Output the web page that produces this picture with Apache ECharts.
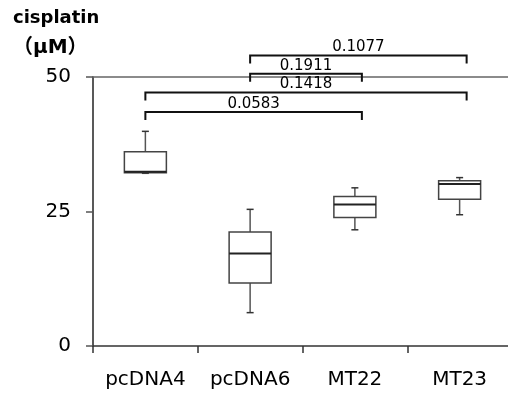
<!DOCTYPE html>
<html>
<head>
<meta charset="utf-8">
<script src="https://cdn.jsdelivr.net/npm/echarts@6/dist/echarts.min.js"></script>
<style>
  html, body { margin: 0; padding: 0; background: #fff; }
  #chart { width: 508px; height: 396px; }
</style>
</head>
<body>
<div id="chart"></div>
<script>
// groups on the x axis
var categories = ['pcDNA4', 'pcDNA6', 'MT22', 'MT23'];

// box plot statistics (cisplatin, μM)
var minVals    = [32.1,  6.2, 21.6, 24.4];
var q1Vals     = [32.2, 11.7, 23.9, 27.3];
var medianVals = [32.4, 17.2, 26.3, 30.1];
var q3Vals     = [36.1, 21.2, 27.8, 30.7];
var maxVals    = [39.9, 25.4, 29.4, 31.3];

// y axis ticks
var yTicks = [0, 25, 50];

// significance brackets (from group, to group, height, p value)
var bracketFrom  = [1, 1, 0, 0];
var bracketTo    = [3, 2, 3, 2];
var bracketLevel = [54.0, 50.6, 47.1, 43.5];
var pValues      = ['0.1077', '0.1911', '0.1418', '0.0583'];

var FONT = '"DejaVu Sans", "Noto Sans CJK SC", sans-serif';

var boxData = categories.map(function (c, i) {
  return [i, minVals[i], q1Vals[i], medianVals[i], q3Vals[i], maxVals[i]];
});
var bracketData = pValues.map(function (p, i) {
  return [bracketFrom[i], bracketTo[i], bracketLevel[i], p];
});

var chart = echarts.init(document.getElementById('chart'));

var option = {
  animation: false,
  title: {
    text: '{a|cisplatin}\n{b|（μM）}',
    left: 8,
    top: -2,
    textStyle: {
      fontFamily: FONT,
      fontWeight: 'bold',
      color: '#000',
      rich: {
        a: { fontFamily: FONT, fontWeight: 'bold', fontSize: 18, lineHeight: 30, color: '#000' },
        b: { fontFamily: FONT, fontWeight: 'bold', fontSize: 20, lineHeight: 30, color: '#000' }
      }
    }
  },
  grid: { left: 93, width: 419, top: 77, bottom: 50, outerBoundsMode: 'none' },
  xAxis: [{
    type: 'category',
    data: categories,
    axisLine: { lineStyle: { color: '#333', width: 1.5 } },
    axisTick: { show: true, interval: 0, length: 7, lineStyle: { color: '#333', width: 1.5 } },
    axisLabel: { interval: 0, fontFamily: FONT, fontSize: 20, color: '#000', margin: 24 }
  }, {
    // line across the top at 50
    type: 'category',
    data: categories,
    position: 'top',
    axisLine: { lineStyle: { color: '#666', width: 1.5 } },
    axisTick: { show: false },
    axisLabel: { show: false }
  }],
  yAxis: {
    type: 'value',
    min: yTicks[0],
    max: yTicks[yTicks.length - 1],
    interval: yTicks[1] - yTicks[0],
    axisLine: { show: true, lineStyle: { color: '#222', width: 1.5 } },
    axisTick: { show: true, length: 7, lineStyle: { color: '#555', width: 1.5 } },
    axisLabel: { fontFamily: FONT, fontSize: 20, color: '#000', margin: 22 },
    splitLine: { show: false }
  },
  series: [{
    type: 'custom',
    name: 'box',
    data: boxData,
    renderItem: function (params, api) {
      var x = api.value(0);
      var lo = api.coord([x, api.value(1)]);
      var q1 = api.coord([x, api.value(2)]);
      var md = api.coord([x, api.value(3)]);
      var q3 = api.coord([x, api.value(4)]);
      var hi = api.coord([x, api.value(5)]);
      var cx = lo[0];
      var hw = 21, cw = 3.5;
      var whisker = { stroke: '#555', lineWidth: 1.5 };
      return {
        type: 'group',
        children: [
          { type: 'line', shape: { x1: cx, y1: hi[1], x2: cx, y2: q3[1] }, style: whisker },
          { type: 'line', shape: { x1: cx, y1: q1[1], x2: cx, y2: lo[1] }, style: whisker },
          { type: 'line', shape: { x1: cx - cw, y1: hi[1], x2: cx + cw, y2: hi[1] }, style: { stroke: '#333', lineWidth: 1.5 } },
          { type: 'line', shape: { x1: cx - cw, y1: lo[1], x2: cx + cw, y2: lo[1] }, style: { stroke: '#333', lineWidth: 1.5 } },
          { type: 'rect', shape: { x: cx - hw, y: q3[1], width: hw * 2, height: q1[1] - q3[1] },
            style: { fill: '#fff', stroke: '#444', lineWidth: 1.5 } },
          { type: 'line', shape: { x1: cx - hw, y1: md[1], x2: cx + hw, y2: md[1] }, style: { stroke: '#222', lineWidth: 2 } }
        ]
      };
    }
  }, {
    type: 'custom',
    name: 'brackets',
    data: bracketData,
    clip: false,
    renderItem: function (params, api) {
      var a = api.coord([api.value(0), api.value(2)]);
      var b = api.coord([api.value(1), api.value(2)]);
      var leg = 8;
      var x1 = a[0], x2 = b[0] + 7, y = a[1];
      var st = { stroke: '#111', lineWidth: 2, fill: null };
      return {
        type: 'group',
        children: [
          { type: 'polyline', shape: { points: [[x1, y + leg], [x1, y], [x2, y], [x2, y + leg]] }, style: st },
          { type: 'text', x: (x1 + x2) / 2, y: y - 0.5,
            style: { text: bracketData[params.dataIndex][3], fontFamily: FONT, fontSize: 15,
                     fill: '#000', align: 'center', verticalAlign: 'bottom' } }
        ]
      };
    }
  }]
};

chart.setOption(option);
</script>
</body>
</html>
